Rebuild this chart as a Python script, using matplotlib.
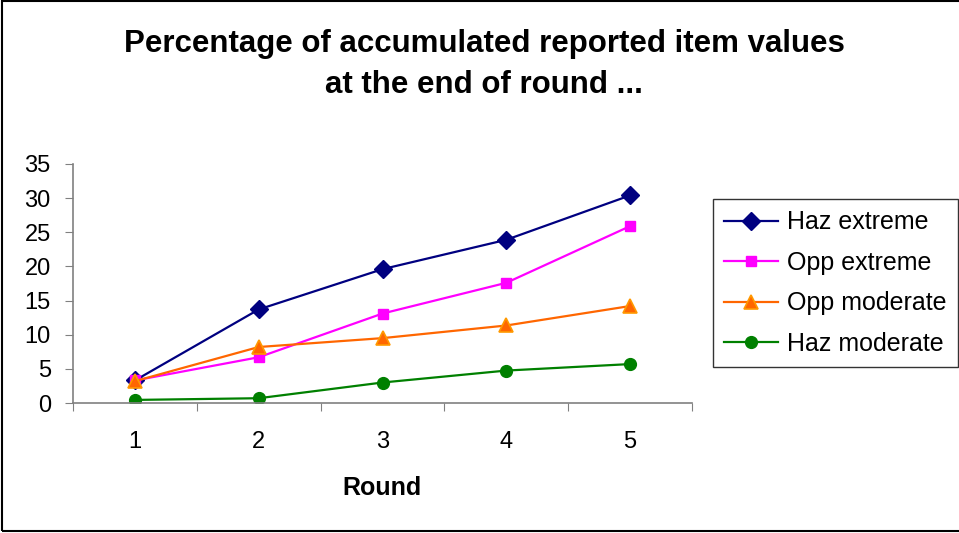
import matplotlib.pyplot as plt
from matplotlib.patches import Rectangle

plt.rcParams['font.family'] = ['Liberation Sans', 'DejaVu Sans']

rounds = [1, 2, 3, 4, 5]
haz_extreme = [3.3, 13.7, 19.6, 23.9, 30.4]
opp_extreme = [3.3, 6.7, 13.1, 17.6, 25.9]
opp_moderate = [3.2, 8.2, 9.5, 11.35, 14.2]
haz_moderate = [0.45, 0.7, 3.0, 4.75, 5.7]

fig = plt.figure(figsize=(9.59, 5.33), dpi=100)
ax = fig.add_axes([73 / 959, 1 - 403 / 533, (692 - 73) / 959, (403 - 164) / 533])

ax.plot(rounds, haz_extreme, color='#000080', lw=1.6, marker='D', ms=9.5,
        label='Haz extreme')
ax.plot(rounds, opp_extreme, color='#FF00FF', lw=1.6, marker='s', ms=7.5,
        label='Opp extreme')
ax.plot(rounds, opp_moderate, color='#FF6600', lw=1.6, marker='^', ms=10,
        mfc='#FF6600', mec='#FF9900', mew=1.2, label='Opp moderate')
ax.plot(rounds, haz_moderate, color='#008000', lw=1.6, marker='o', ms=8.5,
        label='Haz moderate')

ax.set_xlim(0.5, 5.5)
ax.set_ylim(0, 35)
ax.set_yticks(range(0, 36, 5))
ax.set_xticks([0.5, 1.5, 2.5, 3.5, 4.5, 5.5])
ax.set_xticklabels([])
ax.set_xticks(rounds, minor=True)
ax.set_xticklabels([str(r) for r in rounds], minor=True)
ax.tick_params(axis='x', which='minor', length=0, pad=20, labelsize=17)
ax.tick_params(axis='x', which='major', length=6, color='#808080', direction='out')
ax.tick_params(axis='y', length=6, color='#808080', pad=10, labelsize=17)

for side in ['top', 'right']:
    ax.spines[side].set_visible(False)
for side in ['left', 'bottom']:
    ax.spines[side].set_color('#808080')
    ax.spines[side].set_linewidth(1.2)

ax.set_xlabel('Round', fontsize=18, fontweight='bold', labelpad=17)

fig.text(0.505, 0.945, 'Percentage of accumulated reported item values\nat the end of round ...',
         ha='center', va='top', fontsize=22.5, fontweight='bold', linespacing=1.45)

leg = ax.legend(loc='upper left', bbox_to_anchor=(713 / 959, 1 - 199 / 533),
                bbox_transform=fig.transFigure, fontsize=18, frameon=True,
                fancybox=False, handlelength=2.15, labelspacing=0.66,
                borderaxespad=0, borderpad=0.45, handletextpad=0.35)
leg.get_frame().set_edgecolor('black')
leg.get_frame().set_linewidth(1.0)

# outer frame around the whole chart
fig.patches.append(Rectangle((1.5 / 959, 2 / 533), 1.1, 1 - 2.5 / 533,
                             transform=fig.transFigure, fill=False,
                             edgecolor='black', lw=1.5))

fig.savefig('out.png', dpi=100)
